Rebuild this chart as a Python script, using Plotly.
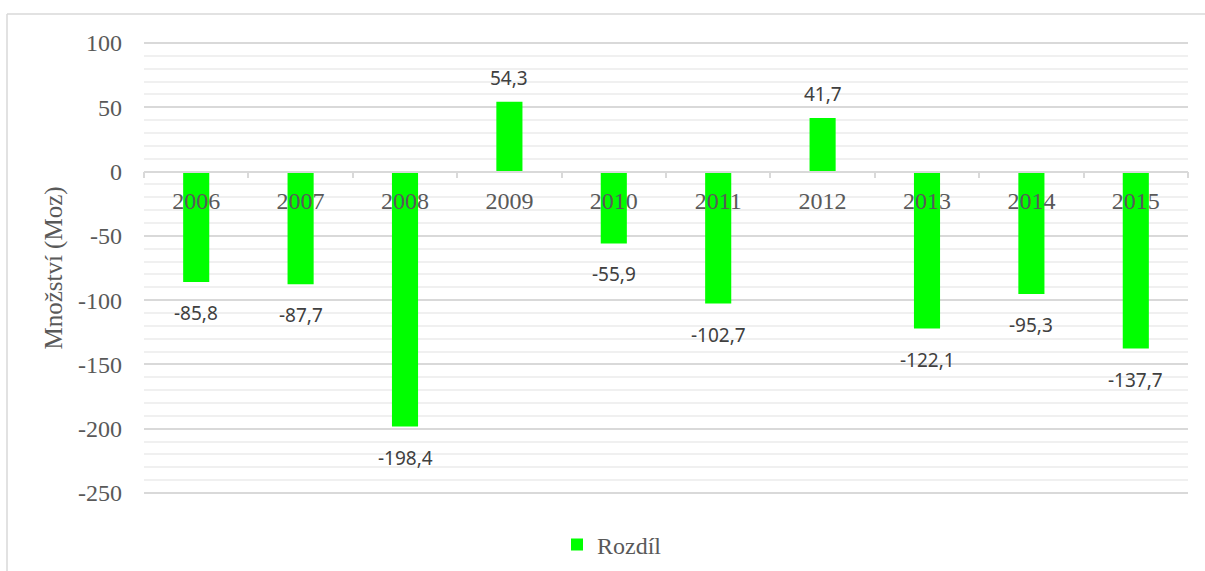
import plotly.graph_objects as go

years = ["2006", "2007", "2008", "2009", "2010", "2011", "2012", "2013", "2014", "2015"]
rozdil = [-85.8, -87.7, -198.4, 54.3, -55.9, -102.7, 41.7, -122.1, -95.3, -137.7]
labels = ["-85,8", "-87,7", "-198,4", "54,3", "-55,9", "-102,7", "41,7", "-122,1", "-95,3", "-137,7"]
y_ticks = [100, 50, 0, -50, -100, -150, -200, -250]

GREEN = "#00FF00"
PAD = 1.6  # small range padding so edge gridlines are drawn
YMIN, YMAX = -250 - PAD, 100 + PAD
TOP, BOT = 41, 571 - 495  # plot spans y 41..495 px

fig = go.Figure()
fig.add_trace(go.Bar(
    x=years, y=rozdil, name="Rozdíl", marker=dict(color=GREEN, line=dict(width=0)),
    width=0.25, showlegend=True,
))

# category axis: annotation x given as category index
for i, (v, t) in enumerate(zip(rozdil, labels)):
    fig.add_annotation(
        x=i, y=v, text=t, showarrow=False, xanchor="center", yanchor="middle",
        yshift=24 if v > 0 else -31,
        font=dict(family="Noto Sans", size=19, color="#404040"),
    )

# outer border
fig.add_shape(type="line", xref="paper", yref="paper",
              x0=-137 / 1044, x1=1.2, y0=(495 - 14) / 454, y1=(495 - 14) / 454,
              line=dict(color="#d9d9d9", width=1.5))
fig.add_shape(type="line", xref="paper", yref="paper",
              x0=-137 / 1044, x1=-137 / 1044, y0=(495 - 14) / 454, y1=-0.3,
              line=dict(color="#d9d9d9", width=1.5))

fig.update_layout(
    width=1205, height=571,
    margin=dict(l=144, r=17, t=TOP, b=BOT, autoexpand=False),
    paper_bgcolor="white", plot_bgcolor="white",
    xaxis=dict(
        type="category", anchor="free", position=(0 - YMIN) / (YMAX - YMIN),
        range=[-0.5, len(years) - 0.5], automargin=False,
        showline=True, linecolor="#d9d9d9", linewidth=1.5,
        ticks="outside", tickson="boundaries", ticklen=6, tickcolor="#d9d9d9", tickwidth=1.5,
        tickfont=dict(family="Liberation Serif", size=24, color="#595959"),
        ticklabelstandoff=8, tickangle=0,
        showgrid=False, layer="above traces",
    ),
    yaxis=dict(
        range=[YMIN, YMAX], tickvals=y_ticks, ticktext=[str(v) for v in y_ticks],
        automargin=False,
        showgrid=True, gridcolor="#d9d9d9", gridwidth=1.5,
        minor=dict(dtick=10, showgrid=True, gridcolor="#f0f0f0", gridwidth=1.5),
        zeroline=False, showline=False, ticks="",
        tickfont=dict(family="Liberation Serif", size=24, color="#595959"),
        ticklabelstandoff=21,
        title=dict(text="Množství (Moz)", font=dict(family="Liberation Serif", size=25, color="#595959"),
                   standoff=8),
    ),
    legend=dict(
        orientation="h", xref="container", x=557 / 1205, xanchor="left",
        yref="container", y=1 - 545 / 571, yanchor="middle",
        font=dict(family="Liberation Serif", size=24, color="#595959"),
        itemwidth=30,
    ),
)

fig.write_html("out.html")
